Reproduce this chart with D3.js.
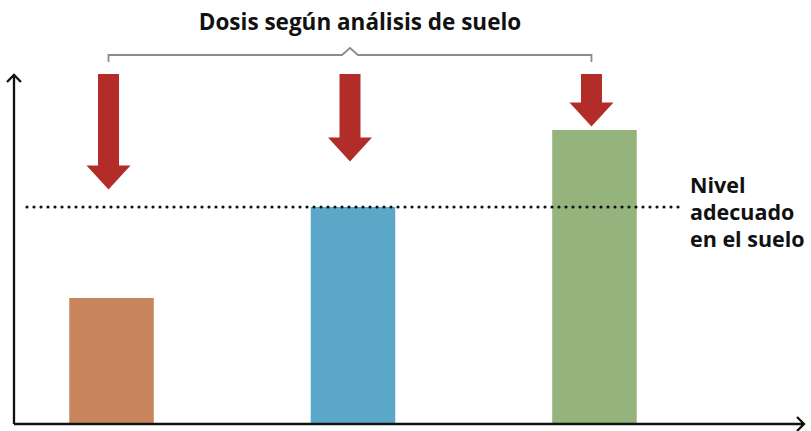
<!DOCTYPE html>
<meta charset="utf-8">
<head>
    <style>
        body, html {
            margin: 0;
            background: white;
            width: 100%;
            height: 100%;
        }
        svg text {
            font-family: "Open Sans", sans-serif;
            font-weight: 700;
            fill: #111;
        }
    </style>
    <script src="https://cdn.jsdelivr.net/npm/d3@7"></script>
</head>
<body>
<div id="chart"></div>

<script>
    // chart values
    var categories = ["bajo", "adecuado", "alto"];
    var soilLevels = [36, 62, 84];        // bar height = nutrient in soil
    var doseTips = [67, 75, 85];          // where each dose arrow ends
    var doseStart = 100;                  // arrows all start at the top
    var adequateLevel = 62;
    var barColors = ["#c8845a", "#5ba7c7", "#95b37c"];
    var arrowColor = "#b22d29";
    var titleText = "Dosis según análisis de suelo";
    var levelLabel = ["Nivel", "adecuado", "en el suelo"];

    var svgWidth = 811;
    var svgHeight = 431;

    var svg = d3.select("#chart").append("svg")
        .attr("width", svgWidth)
        .attr("height", svgHeight);

    var x = d3.scaleBand()
        .domain(categories)
        .range([27, 679])
        .paddingInner(0.65)
        .paddingOuter(0.175);

    var y = d3.scaleLinear()
        .domain([0, 100])
        .range([424, 74]);

    var originX = 14;

    // bars
    svg.selectAll(".bar")
        .data(categories)
        .enter()
        .append("rect")
        .attr("class", "bar")
        .attr("x", function(d){return x(d)})
        .attr("width", x.bandwidth())
        .attr("y", function(d, i){return y(soilLevels[i])})
        .attr("height", function(d, i){return y(0) - y(soilLevels[i])})
        .attr("fill", function(d, i){return barColors[i]});

    // adequate level (dotted)
    svg.append("line")
        .attr("x1", x.range()[0])
        .attr("x2", x.range()[1])
        .attr("y1", y(adequateLevel))
        .attr("y2", y(adequateLevel))
        .attr("stroke", "#111")
        .attr("stroke-width", 3.2)
        .attr("stroke-linecap", "round")
        .attr("stroke-dasharray", "0 7");

    // dose arrows
    function arrowPath(cx, top, tip){
        var shaft = 10.5, head = 22, headH = 24;
        var neck = tip - headH;
        return "M" + (cx - shaft) + "," + top +
            "L" + (cx + shaft) + "," + top +
            "L" + (cx + shaft) + "," + neck +
            "L" + (cx + head) + "," + neck +
            "L" + cx + "," + tip +
            "L" + (cx - head) + "," + neck +
            "L" + (cx - shaft) + "," + neck + "Z";
    }
    function arrowX(d){return x(d) + x.bandwidth() / 2 - 3}

    svg.selectAll(".dose")
        .data(categories)
        .enter()
        .append("path")
        .attr("class", "dose")
        .attr("d", function(d, i){return arrowPath(arrowX(d), y(doseStart), y(doseTips[i]))})
        .attr("fill", arrowColor);

    // brace above the arrows
    var bx0 = arrowX(categories[0]), bx1 = arrowX(categories[categories.length - 1]);
    var bmid = (bx0 + bx1) / 2;
    var by = 55;
    svg.append("path")
        .attr("d", "M" + bx0 + "," + (by + 7) + "L" + bx0 + "," + by +
            "L" + (bmid - 8) + "," + by + "L" + bmid + "," + (by - 7) +
            "L" + (bmid + 8) + "," + by + "L" + bx1 + "," + by +
            "L" + bx1 + "," + (by + 7))
        .attr("fill", "none")
        .attr("stroke", "#8c8c8c")
        .attr("stroke-width", 1.8);

    svg.append("text")
        .attr("x", 360)
        .attr("y", 30)
        .attr("text-anchor", "middle")
        .attr("font-size", 22.5)
        .text(titleText);

    // axes with open arrowheads
    var axes = svg.append("g")
        .attr("fill", "none")
        .attr("stroke", "#111")
        .attr("stroke-width", 2.3);
    axes.append("path")
        .attr("d", "M" + originX + "," + y(0) + "L" + originX + "," + (y.range()[1] + 1) +
            "M" + (originX - 7) + "," + (y.range()[1] + 8) + "L" + originX + "," + (y.range()[1] + 1) +
            "L" + (originX + 7) + "," + (y.range()[1] + 8));
    axes.append("path")
        .attr("d", "M" + originX + "," + y(0) + "L" + 804 + "," + y(0) +
            "M" + 797 + "," + (y(0) - 7) + "L" + 804 + "," + y(0) + "L" + 797 + "," + (y(0) + 7));

    svg.append("text")
        .attr("x", 690)
        .attr("y", 193)
        .attr("font-size", 21.5)
        .selectAll("tspan")
        .data(levelLabel)
        .enter()
        .append("tspan")
        .attr("x", 690)
        .attr("dy", function(d, i){return i ? 27 : 0})
        .text(function(d){return d});
</script>
</body>
